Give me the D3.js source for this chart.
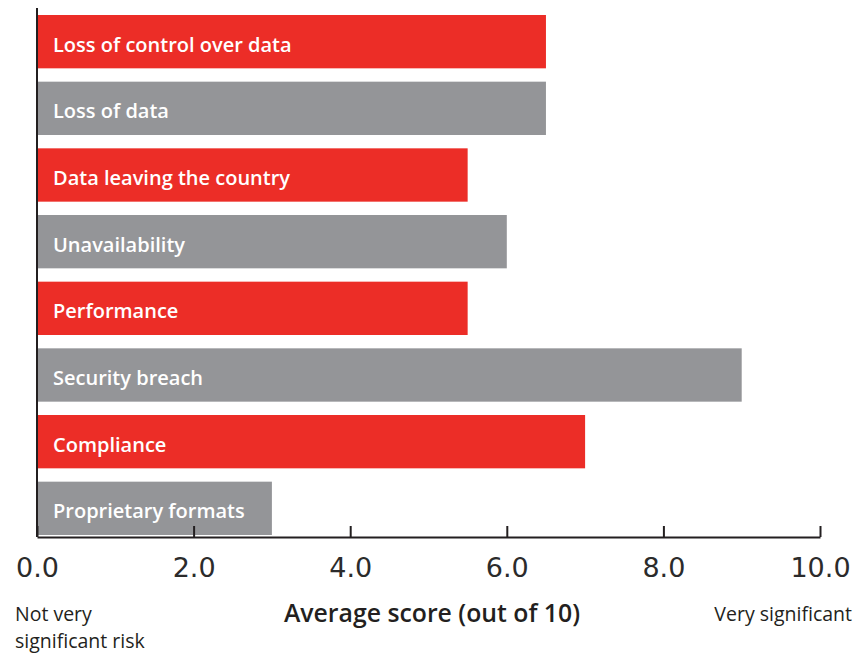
<!DOCTYPE html>
<html>
<head>
<meta charset="utf-8">
<script src="https://cdn.jsdelivr.net/npm/d3@7"></script>
<style>
  body { margin: 0; background: #fff; }
  svg { display: block; }
</style>
</head>
<body>
<svg id="chart" width="866" height="654"></svg>
<script>
// Risk categories, top to bottom
const categories = [
  "Loss of control over data",
  "Loss of data",
  "Data leaving the country",
  "Unavailability",
  "Performance",
  "Security breach",
  "Compliance",
  "Proprietary formats"
];
// Average score (out of 10)
const scores = [6.5, 6.5, 5.5, 6.0, 5.5, 9.0, 7.0, 3.0];
const tickValues = [0, 2, 4, 6, 8, 10];

const RED = "#ec2d27";
const GREY = "#949598";
const INK = "#231f20";

const svg = d3.select("#chart");

const x = d3.scaleLinear().domain([0, 10]).range([37, 820]);
const y = d3.scaleBand().domain(categories).range([15, 535]).paddingInner(0.2).paddingOuter(0);

const data = categories.map((c, i) => ({ name: c, value: scores[i], i }));

// Bars
svg.append("g").selectAll("rect").data(data).join("rect")
  .attr("x", x(0))
  .attr("y", d => y(d.name))
  .attr("width", d => x(d.value) - x(0))
  .attr("height", y.bandwidth())
  .attr("fill", d => d.i % 2 === 0 ? RED : GREY);

// Labels inside bars
svg.append("g").selectAll("text").data(data).join("text")
  .attr("x", 53)
  .attr("y", d => y(d.name) + y.bandwidth() / 2 + 10)
  .attr("fill", "#fff")
  .style("font-family", "'Open Sans', sans-serif")
  .style("font-weight", 600)
  .style("font-size", "20px")
  .text(d => d.name);

// Vertical baseline
svg.append("line")
  .attr("x1", x(0)).attr("x2", x(0))
  .attr("y1", 8).attr("y2", 537)
  .attr("stroke", INK).attr("stroke-width", 2);

// X axis with ticks pointing up
const axis = d3.axisBottom(x)
  .tickValues(tickValues)
  .tickSize(-11)
  .tickSizeOuter(0)
  .tickPadding(0)
  .tickFormat(d3.format(".1f"));

const gx = svg.append("g")
  .attr("transform", "translate(0,537)")
  .call(axis);
gx.select(".domain").attr("stroke", INK).attr("stroke-width", 2);
gx.selectAll(".tick line").attr("stroke", INK).attr("stroke-width", 2);
gx.selectAll(".tick text")
  .attr("fill", "#2b2b2b")
  .attr("y", 40)
  .attr("dy", null)
  .style("font-family", "'DejaVu Sans', sans-serif")
  .style("font-weight", 400)
  .style("font-size", "27px");

// Axis title
svg.append("text")
  .attr("x", 432).attr("y", 622)
  .attr("text-anchor", "middle")
  .attr("fill", INK)
  .style("font-family", "'Open Sans', sans-serif")
  .style("font-weight", 600)
  .style("font-size", "24.8px")
  .text("Average score (out of 10)");

// Scale end notes
const note = svg.append("g")
  .attr("fill", INK)
  .style("font-family", "'Open Sans', sans-serif")
  .style("font-size", "19.5px");
note.append("text").attr("x", 15).attr("y", 621).text("Not very");
note.append("text").attr("x", 15).attr("y", 648).text("significant risk");
note.append("text").attr("x", 852).attr("y", 621).attr("text-anchor", "end").text("Very significant");
</script>
</body>
</html>
